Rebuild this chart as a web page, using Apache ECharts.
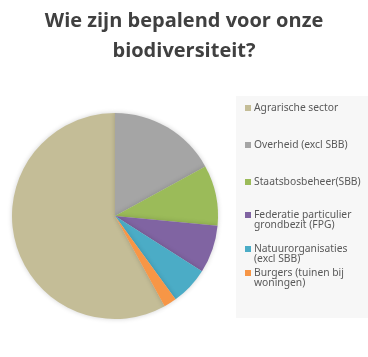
<!DOCTYPE html>
<html>
<head>
<meta charset="utf-8">
<script src="https://cdn.jsdelivr.net/npm/echarts@6/dist/echarts.min.js"></script>
<style>html,body{margin:0;padding:0;background:#fff}#c{width:368px;height:357px}</style>
</head>
<body>
<div id="c"></div>
<script>
const titleText = 'Wie zijn bepalend voor onze\nbiodiversiteit?';
const categories = ['Agrarische sector', 'Overheid (excl SBB)', 'Staatsbosbeheer(SBB)', 'Federatie particulier grondbezit (FPG)', 'Natuurorganisaties (excl SBB)', 'Burgers (tuinen bij woningen)'];
const legendLabels = ['Agrarische sector', 'Overheid (excl SBB)', 'Staatsbosbeheer(SBB)', 'Federatie particulier\ngrondbezit (FPG)', 'Natuurorganisaties\n(excl SBB)', 'Burgers (tuinen bij\nwoningen)'];
const values = [58, 17, 9.5, 7.5, 6, 2];
const colors = ['#c4bd97', '#a5a5a5', '#9bbb59', '#8064a2', '#4bacc6', '#f79646'];

const legendCenters = [108, 145, 182, 215, 249, 273];
const LH = 10.5;
// square marker aligned to the first text line of a 2-line item
const topSquare = 'path://M0,0H6V6H0ZM0,16.45H0.01V16.5H0Z';
const legends = categories.map((name, i) => {
  const lines = legendLabels[i].split('\n').length;
  return {
    data: [name],
    orient: 'vertical',
    left: 245,
    top: legendCenters[i] - LH / 2,
    padding: 0,
    icon: lines > 1 ? topSquare : 'rect',
    itemWidth: 6,
    itemHeight: lines > 1 ? 16.5 : 6,
    itemGap: 0,
    selectedMode: false,
    formatter: () => legendLabels[i],
    textStyle: {
      fontFamily: 'Noto Sans',
      fontSize: 10.3,
      lineHeight: LH,
      color: '#595959',
      padding: [0, 0, 0, -2]
    }
  };
});

const chart = echarts.init(document.getElementById('c'), null, {renderer: 'canvas'});
chart.setOption({
  animation: false,
  backgroundColor: '#ffffff',
  color: colors,
  title: {
    text: titleText,
    left: 'center',
    top: 6,
    padding: 0,
    textStyle: {
      fontFamily: 'Open Sans',
      fontWeight: 'bold',
      fontSize: 20,
      lineHeight: 30,
      color: '#404040'
    }
  },
  graphic: [{
    type: 'rect',
    z: -10,
    shape: {x: 236, y: 96, width: 132, height: 222},
    style: {fill: '#f7f7f7'}
  }],
  legend: legends,
  series: [{
    type: 'pie',
    center: [115, 216],
    radius: 103,
    startAngle: 90 - (360 - values[0] * 3.6),
    clockwise: true,
    label: {show: false},
    labelLine: {show: false},
    emphasis: {disabled: true},
    itemStyle: {
      borderWidth: 0,
      shadowBlur: 5,
      shadowColor: 'rgba(0,0,0,0.18)'
    },
    data: categories.map((n, i) => ({name: n, value: values[i]}))
  }]
});
</script>
</body>
</html>
